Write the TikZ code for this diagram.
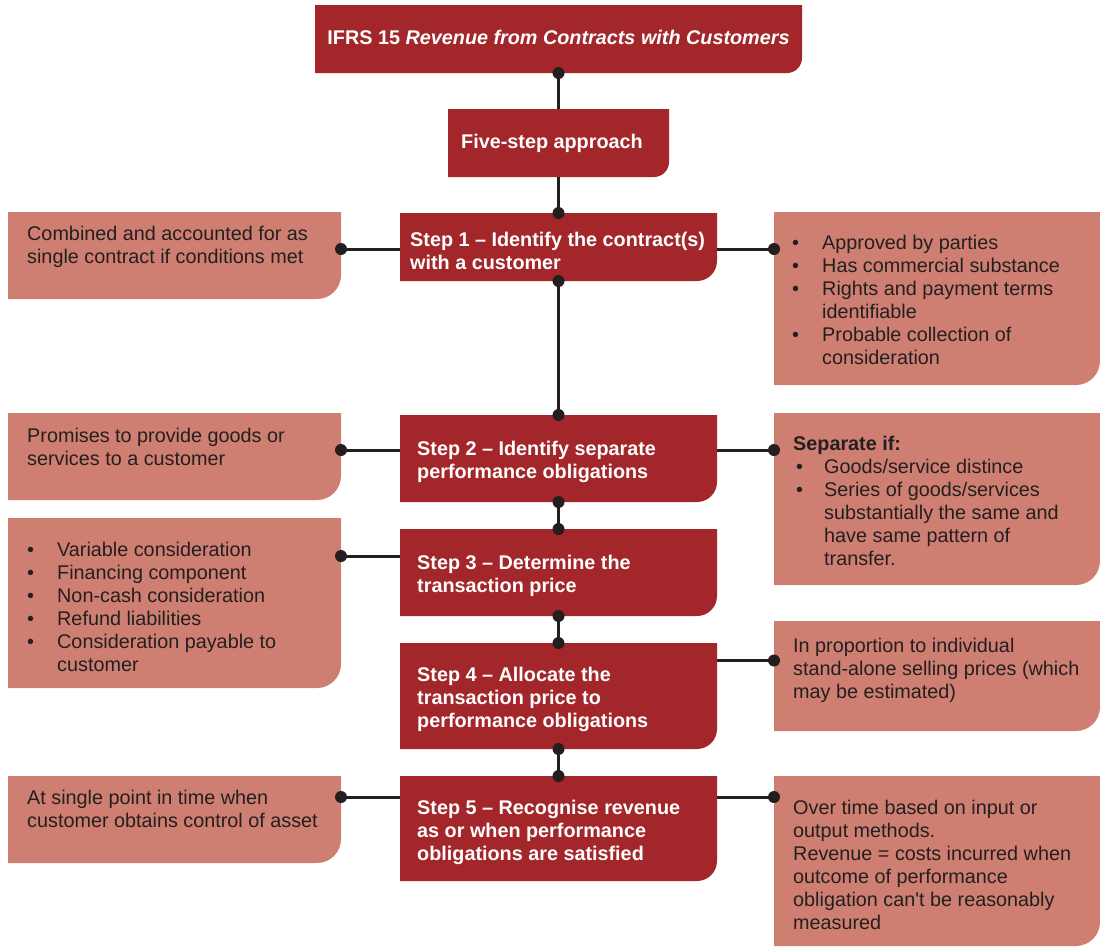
\documentclass[tikz,border=0pt]{standalone}
\usepackage{fontspec}
\setmainfont{Liberation Sans}
\usetikzlibrary{calc}
\definecolor{stepred}{HTML}{A3262A}
\definecolor{notepink}{HTML}{CF7F72}
\definecolor{ink}{HTML}{231F20}
% bullet items with a hanging indent
\newcommand\bul{\makebox[30pt][l]{\textbullet}}
\newcommand\ind{\hspace*{30pt}}
\newcommand\bulb{\makebox[31pt][l]{\hspace{3pt}\textbullet}}
\newcommand\indb{\hspace*{31pt}}

\begin{document}
\begin{tikzpicture}[x=1pt,y=1pt,
  % rectangle whose bottom right corner alone is rounded
  cornerfill/.style 2 args={path picture={
    \fill[#1] (path picture bounding box.north west) -- (path picture bounding box.north east)
      -- ([yshift=#2]path picture bounding box.south east)
      arc[start angle=0,end angle=-90,radius=#2]
      -- (path picture bounding box.south west) -- cycle;}},
  panel/.style={anchor=north west, inner sep=0pt, outer sep=0pt},
  darkpanel/.style={panel, cornerfill={stepred}{20pt}},
  headpanel/.style={panel, cornerfill={stepred}{15pt}},
  notepanel/.style={panel, cornerfill={notepink}{24pt}},
  steptext/.style={text=white, font=\fontsize{19.8}{23}\selectfont\bfseries, align=left, inner sep=0pt, anchor=west},
  notetext/.style={text=ink, font=\fontsize{19.8}{23}\selectfont, align=left, inner sep=0pt, anchor=north west},
  link/.style={draw=ink, line width=3pt},
  dot/.style={fill=ink},
]
\useasboundingbox (0,0) rectangle (1100,-946);

% ---- panels ----
\node[headpanel, minimum width=487pt, minimum height=68pt] (title) at (315,-5) {};
\node[headpanel, minimum width=221pt, minimum height=68pt] (five) at (448,-109) {};
\node[darkpanel, minimum width=317pt, minimum height=68pt] (s1) at (400,-213) {};
\node[darkpanel, minimum width=317pt, minimum height=87pt] (s2) at (400,-415) {};
\node[darkpanel, minimum width=317pt, minimum height=87pt] (s3) at (400,-529) {};
\node[darkpanel, minimum width=317pt, minimum height=106pt] (s4) at (400,-643) {};
\node[darkpanel, minimum width=317pt, minimum height=105pt] (s5) at (400,-776) {};

\node[notepanel, minimum width=333pt, minimum height=87pt] (l1) at (8,-212) {};
\node[notepanel, minimum width=333pt, minimum height=87pt] (l2) at (8,-413) {};
\node[notepanel, minimum width=333pt, minimum height=170pt] (l3) at (8,-518) {};
\node[notepanel, minimum width=333pt, minimum height=87pt] (l5) at (8,-776) {};

\node[notepanel, minimum width=326pt, minimum height=173pt] (r1) at (774,-212) {};
\node[notepanel, minimum width=326pt, minimum height=172pt] (r2) at (774,-413) {};
\node[notepanel, minimum width=326pt, minimum height=110pt] (r4) at (774,-621) {};
\node[notepanel, minimum width=326pt, minimum height=170pt] (r5) at (774,-776) {};

% ---- texts ----
\node[steptext, anchor=center] (titlet) at ($(title.center)+(0,1.5)$) {IFRS 15 \textit{Revenue from Contracts with Customers}};
\node[steptext] (fivet) at ($(five.west)+(13,0)$) {Five-step approach};
\node[steptext] (s1t) at ($(s1.west)+(10,-3.5)$) {Step 1 – Identify the contract(s)\\with a customer};
\node[steptext] (s2t) at ($(s2.west)+(17,-3.5)$) {Step 2 – Identify separate\\performance obligations};
\node[steptext] (s3t) at ($(s3.west)+(17,-3.5)$) {Step 3 – Determine the\\transaction price};
\node[steptext] (s4t) at ($(s4.west)+(17,-3.5)$) {Step 4 – Allocate the\\transaction price to\\performance obligations};
\node[steptext] (s5t) at ($(s5.west)+(17,-3.5)$) {Step 5 – Recognise revenue\\as or when performance\\obligations are satisfied};

\node[notetext] (l1t) at ($(l1.north west)+(19,-13.5)$) {Combined and accounted for as\\single contract if conditions met};
\node[notetext] (l2t) at ($(l2.north west)+(19,-14.5)$) {Promises to provide goods or\\services to a customer};
\node[notetext] (l3t) at ($(l3.north west)+(19,-23.5)$) {\bul Variable consideration\\\bul Financing component\\\bul Non-cash consideration\\\bul Refund liabilities\\\bul Consideration payable to\\\ind customer};
\node[notetext] (l5t) at ($(l5.north west)+(19,-13.5)$) {At single point in time when\\customer obtains control of asset};

\node[notetext] (r1t) at ($(r1.north west)+(18,-22.5)$) {\bul Approved by parties\\\bul Has commercial substance\\\bul Rights and payment terms\\\ind identifiable\\\bul Probable collection of\\\ind consideration};
\node[notetext] (r2t) at ($(r2.north west)+(19,-22.5)$) {\textbf{Separate if:}\\\bulb Goods/service distince\\\bulb Series of goods/services\\\indb substantially the same and\\\indb have same pattern of\\\indb transfer.};
\node[notetext] (r4t) at ($(r4.north west)+(19,-16.5)$) {In proportion to individual\\stand-alone selling prices (which\\may be estimated)};
\node[notetext] (r5t) at ($(r5.north west)+(19,-24)$) {Over time based on input or\\output methods.\\Revenue = costs incurred when\\outcome of performance\\obligation can\textquotesingle t be reasonably\\measured};

% ---- vertical spine ----
\draw[link] (title.south) -- (five.north);
\draw[link] (five.south) -- (s1.north);
\draw[link] (s1.south) -- (s2.north);
\draw[link] (s2.south) -- (s3.north);
\draw[link] (s3.south) -- (s4.north);
\draw[link] (s4.south) -- (s5.north);
\foreach \p in {title.south, s1.north, s1.south, s2.north, s2.south, s3.north, s3.south, s4.north, s4.south, s5.north}
  \fill[dot] (\p) circle[radius=6];

% ---- side branches ----
\coordinate (s1y) at ($(s1.north west)+(0,-36)$);
\coordinate (s2y) at ($(s2.north west)+(0,-35)$);
\coordinate (s3y) at ($(s3.north west)+(0,-27)$);
\coordinate (s4y) at ($(s4.north west)+(0,-17.5)$);
\coordinate (s5y) at ($(s5.north west)+(0,-21)$);

\draw[link] (s1y) -- (s1y -| l1.east);
\draw[link] (s1y -| s1.east) -- (s1y -| r1.west);
\draw[link] (s2y) -- (s2y -| l2.east);
\draw[link] (s2y -| s2.east) -- (s2y -| r2.west);
\draw[link] (s3y) -- (s3y -| l3.east);
\draw[link] (s4y -| s4.east) -- (s4y -| r4.west);
\draw[link] (s5y) -- (s5y -| l5.east);
\draw[link] (s5y -| s5.east) -- (s5y -| r5.west);

\fill[dot] (s1y -| l1.east) circle[radius=6];
\fill[dot] (s1y -| r1.west) circle[radius=6];
\fill[dot] (s2y -| l2.east) circle[radius=6];
\fill[dot] (s2y -| r2.west) circle[radius=6];
\fill[dot] (s3y -| l3.east) circle[radius=6];
\fill[dot] (s4y -| r4.west) circle[radius=6];
\fill[dot] (s5y -| l5.east) circle[radius=6];
\fill[dot] (s5y -| r5.west) circle[radius=6];
\end{tikzpicture}
\end{document}
